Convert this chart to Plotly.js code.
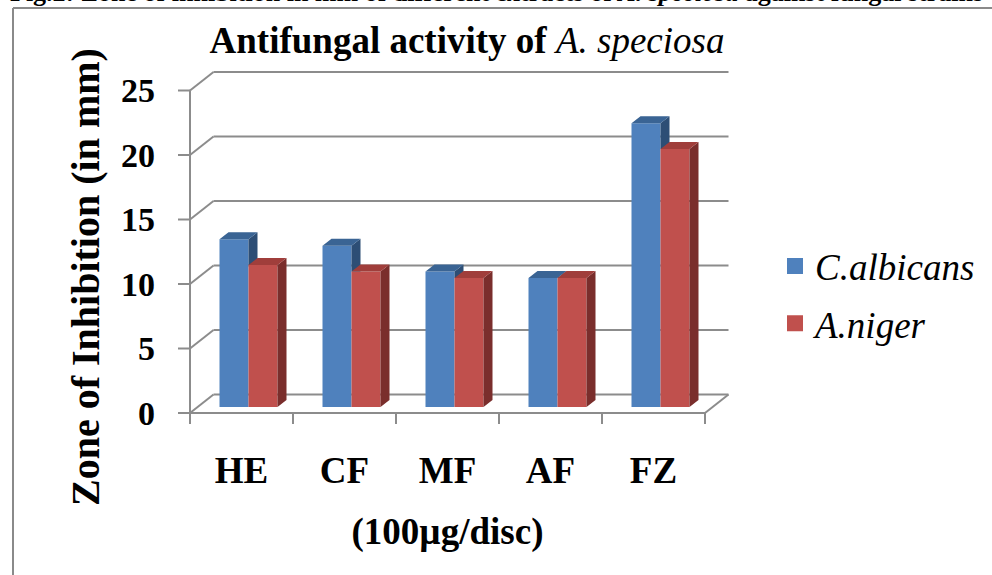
<!DOCTYPE html>
<html>
<head>
<meta charset="utf-8">
<script src="https://cdn.plot.ly/plotly-3.0.1.min.js"></script>
<style>html,body{margin:0;padding:0;background:#fff;}#chart{width:992px;height:575px;}</style>
</head>
<body>
<div id="chart"></div>
<script>
// ---- data ----
const categories = ["HE", "CF", "MF", "AF", "FZ"];
const seriesNames = ["C.albicans", "A.niger"];
const cAlbicans = [13, 12.5, 10.5, 10, 22];
const aNiger = [11, 10.5, 10, 10, 20];
const yTicks = [0, 5, 10, 15, 20, 25];
const chartTitle = "<b>Antifungal activity of </b><i>A. speciosa</i>";
const yTitle = "<b>Zone of Inhibition (in mm)</b>";
const xTitle = "<b>(100µg/disc)</b>";
const caption = "<b>Fig.2: Zone of inhibition in mm of different extracts of <i>A. speciosa</i> against fungal strains</b>";

// ---- layout geometry (pixels) ----
const W = 992, H = 575;
const L = 160, R = 735, T = 60, B = 445;
const pxX = 103, originPX = 190;     // px per category, px of front-left corner
const pxY = 12.9, originPY = 413;    // px per mm, px of value 0 on front
const xRange = [-0.5 + (L - originPX) / pxX, -0.5 + (R - originPX) / pxX];
const yRange = [(originPY - B) / pxY, (originPY - T) / pxY];

// depth offsets (in data units)
const wdx = 23.5 / pxX, wdy = 18.5 / pxY;   // wall depth
const sx = 7 / pxX, sy = 6 / pxY;           // bar placement inside depth
const bdx = 9 / pxX, bdy = 7 / pxY;         // bar depth
const bw = 29 / pxX;                        // bar width
const ytl = 12 / pxX, xtl = 11 / pxY;       // tick lengths

const FONT = "Liberation Serif, Times New Roman, serif";
const cols = {
  blue: {front: "#4F81BD", top: "#3A6494", side: "#2D4E75"},
  red:  {front: "#C0504D", top: "#A03E3B", side: "#7A2E2C"}
};

const n = categories.length;
const idx = categories.map((_, i) => i);
const blueX = idx.map(i => i + sx - bw / 2);
const redX = idx.map(i => i + sx + bw / 2);

function topFaces(xc, vals) {
  const X = [], Y = [];
  xc.forEach((c, i) => {
    const xl = c - bw / 2, xr = c + bw / 2, t = sy + vals[i];
    X.push(xl, xr, xr + bdx, xl + bdx, xl, null);
    Y.push(t, t, t + bdy, t + bdy, t, null);
  });
  return {X, Y};
}
function sideFaces(xc, vals, lowVals) {
  const X = [], Y = [];
  xc.forEach((c, i) => {
    const xr = c + bw / 2, t = sy + vals[i];
    const lo = lowVals ? sy + Math.min(vals[i], lowVals[i]) : sy;
    const loBack = lowVals ? lo : sy + bdy;
    X.push(xr, xr, xr + bdx, xr + bdx, xr, null);
    Y.push(lo, t, t + bdy, loBack, lo, null);
  });
  return {X, Y};
}

const traces = [];
function poly(p, color) {
  traces.push({type: "scatter", mode: "lines", x: p.X, y: p.Y, fill: "toself",
    fillcolor: color, line: {width: 0, color: color}, hoverinfo: "skip", showlegend: false});
}
// fronts as bars
traces.push({type: "bar", x: blueX, y: cAlbicans, base: idx.map(() => sy), width: bw,
  marker: {color: cols.blue.front, line: {width: 0}}, name: seriesNames[0], showlegend: false});
traces.push({type: "bar", x: redX, y: aNiger, base: idx.map(() => sy), width: bw,
  marker: {color: cols.red.front, line: {width: 0}}, name: seriesNames[1], showlegend: false});
// sides & tops
poly(sideFaces(blueX, cAlbicans, aNiger), cols.blue.side);
poly(topFaces(blueX, cAlbicans), cols.blue.top);
poly(sideFaces(redX, aNiger, null), cols.red.side);
poly(topFaces(redX, aNiger), cols.red.top);
// legend entries
traces.push({type: "scatter", mode: "markers", x: [null], y: [null], name: "<i>" + seriesNames[0] + "</i>",
  marker: {symbol: "square", size: 16, color: cols.blue.front}, legendgroup: "a"});
traces.push({type: "scatter", mode: "markers", x: [null], y: [null], name: "<i>" + seriesNames[1] + "</i>",
  marker: {symbol: "square", size: 16, color: cols.red.front}, legendgroup: "b"});

// ---- walls / grid as shapes ----
const GRID = {color: "#8C8C8C", width: 2};
const shapes = [];
function seg(x0, y0, x1, y1) {
  shapes.push({type: "line", xref: "x", yref: "y", x0, y0, x1, y1, line: GRID, layer: "below"});
}
const xL = -0.5, xR = n - 0.5;
yTicks.forEach(v => {
  seg(xL + wdx, v + wdy, xR + wdx, v + wdy);   // back wall gridline
  seg(xL, v, xL + wdx, v + wdy);               // side wall diagonal
  seg(xL - ytl, v, xL, v);                     // tick mark
});
seg(xL, yTicks[0], xL, yTicks[yTicks.length - 1]);  // vertical axis
seg(xL, 0, xR, 0);                                  // front floor edge
seg(xR, 0, xR + wdx, wdy);                          // right floor edge
for (let k = 0; k <= n; k++) seg(xL + k, 0, xL + k, -xtl);

// frame of the figure
const px2x = p => (p - L) / (R - L), py2y = p => (B - p) / (B - T);
const FRAME = {color: "#8A8A8A", width: 2};
shapes.push({type: "line", xref: "paper", yref: "paper", x0: px2x(13), y0: py2y(8), x1: px2x(995), y1: py2y(8), line: FRAME});
shapes.push({type: "line", xref: "paper", yref: "paper", x0: px2x(13), y0: py2y(8), x1: px2x(13), y1: py2y(580), line: FRAME});

const layout = {
  width: W, height: H,
  margin: {l: L, r: W - R, t: T, b: H - B},
  paper_bgcolor: "#fff", plot_bgcolor: "rgba(0,0,0,0)",
  font: {family: FONT, color: "#000"},
  title: {text: chartTitle, font: {family: FONT, size: 37, color: "#000"},
    x: 467 / W, xanchor: "center", y: 1 - 40 / H, yanchor: "middle"},
  xaxis: {range: xRange, showgrid: false, zeroline: false, showline: false, ticks: "",
    tickmode: "array", tickvals: idx, ticktext: categories,
    tickfont: {family: FONT, size: 37, weight: "bold", color: "#000"},
    title: {text: xTitle, font: {family: FONT, size: 37, color: "#000"}, standoff: 28}},
  yaxis: {range: yRange, showgrid: false, zeroline: false, showline: false, ticks: "",
    tickmode: "array", tickvals: yTicks, ticktext: yTicks.map(String),
    tickfont: {family: FONT, size: 34, weight: "bold", color: "#000"}, ticklabelstandoff: 4},
  barmode: "overlay",
  showlegend: true,
  legend: {xref: "container", yref: "container", x: 775 / W, y: 1 - 295 / H, xanchor: "left", yanchor: "middle",
    font: {family: FONT, size: 37, color: "#000"}, tracegroupgap: 6, bgcolor: "rgba(0,0,0,0)"},
  shapes: shapes,
  annotations: [
    {text: yTitle, textangle: -90, xref: "paper", yref: "paper", x: px2x(85), y: py2y(277),
      xanchor: "center", yanchor: "middle", showarrow: false, font: {family: FONT, size: 40, color: "#000"}},
    {text: caption, xref: "paper", yref: "paper", x: px2x(8), y: py2y(9), xanchor: "left", yanchor: "bottom",
      showarrow: false, font: {family: FONT, size: 26, color: "#000"}}
  ]
};

Plotly.newPlot("chart", traces, layout, {staticPlot: true, displayModeBar: false});
</script>
</body>
</html>
